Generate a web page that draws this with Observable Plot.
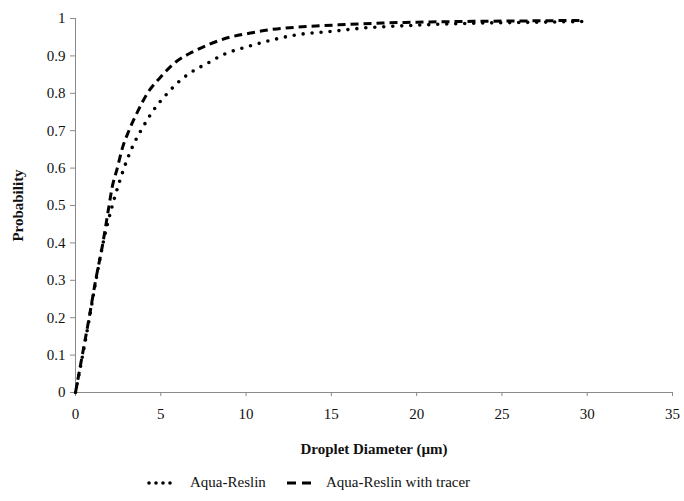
<!DOCTYPE html>
<html>
<head>
<meta charset="utf-8">
<script src="https://cdn.jsdelivr.net/npm/d3@7"></script>
<script src="https://cdn.jsdelivr.net/npm/@observablehq/plot@0.6"></script>
<style>
  body { margin: 0; background: #fff; font-family: 'Liberation Serif', 'Times New Roman', serif; }
  #wrap { position: relative; width: 684px; }
  #legend { position: relative; height: 31px; font-size: 15px; color: #111; }
  .item { position: absolute; top: 4px; display: flex; align-items: center; white-space: nowrap; }
  svg text { font-family: 'Liberation Serif', 'Times New Roman', serif; }
</style>
</head>
<body>
<div id="wrap">
  <div id="chart"></div>
  <div id="legend"></div>
</div>
<script>
// Aqua-Reslin (dotted)
const reslinX = [0, 0.42, 0.82, 1.2, 1.62, 2.19, 2.54, 2.93, 3.42, 3.97, 4.59, 5.37, 5.76, 6.64, 7.72, 8.8, 9.88, 11.05, 12.77, 15.1, 17, 19, 21.5, 24, 27, 29.7];
const reslinY = [0, 0.1, 0.2, 0.3, 0.4, 0.505, 0.558, 0.611, 0.665, 0.711, 0.756, 0.799, 0.818, 0.852, 0.88, 0.906, 0.922, 0.937, 0.955, 0.966, 0.975, 0.98, 0.985, 0.988, 0.99, 0.992];
// Aqua-Reslin with tracer (dashed)
const tracerX = [0, 0.4, 0.8, 1.18, 1.6, 1.95, 2.15, 2.44, 2.74, 3.13, 3.62, 4.2, 4.98, 5.86, 6.84, 7.9, 9.05, 10.25, 11.4, 13.75, 15.9, 18, 20, 22.5, 25, 27.5, 29.7];
const tracerY = [0, 0.1, 0.2, 0.3, 0.398, 0.495, 0.549, 0.598, 0.652, 0.70, 0.749, 0.799, 0.843, 0.883, 0.91, 0.932, 0.95, 0.961, 0.97, 0.979, 0.984, 0.988, 0.99, 0.992, 0.993, 0.994, 0.995];

const seriesNames = ["Aqua-Reslin", "Aqua-Reslin with tracer"];
const xTicks = [0, 5, 10, 15, 20, 25, 30, 35];
const yTicks = [0, 0.1, 0.2, 0.3, 0.4, 0.5, 0.6, 0.7, 0.8, 0.9, 1];
const xLabel = "Droplet Diameter (\u00b5m)";
const yLabel = "Probability";

const reslin = reslinX.map((x, i) => ({x, y: reslinY[i]}));
const tracer = tracerX.map((x, i) => ({x, y: tracerY[i]}));

const serif = "'Liberation Serif', 'Times New Roman', serif";
const axisColor = "#8a8a8a";
const chart = Plot.plot({
  width: 684,
  height: 470,
  marginTop: 18,
  marginBottom: 78,
  marginLeft: 75,
  marginRight: 12,
  style: {fontFamily: serif, fontSize: "15px", color: "#111", background: "#fff"},
  x: {domain: [0, 35]},
  y: {domain: [0, 1]},
  marks: [
    Plot.ruleY([0], {stroke: axisColor}),
    Plot.ruleX([0], {stroke: axisColor}),
    Plot.axisX({ticks: xTicks, tickSize: 4, tickPadding: 12, stroke: axisColor, label: null, tickFormat: d => String(d), fill: "#111", fontSize: 15}),
    Plot.axisY({ticks: yTicks, tickSize: 5, tickPadding: 5, stroke: axisColor, label: null, tickFormat: d => String(+d.toFixed(1)), fill: "#111", fontSize: 15}),
    Plot.line(reslin, {x: "x", y: "y", curve: "monotone-x", stroke: "#000", strokeWidth: 3.6, strokeDasharray: "0,9", strokeLinecap: "round"}),
    Plot.line(tracer, {x: "x", y: "y", curve: "monotone-x", stroke: "#000", strokeWidth: 3, strokeDasharray: "8,5", strokeLinecap: "butt"}),
    Plot.text([xLabel], {frameAnchor: "bottom", dy: 61, text: d => d, fontWeight: "bold", fontSize: 15, fill: "#111"}),
    Plot.text([yLabel], {frameAnchor: "left", dx: -57, rotate: -90, text: d => d, textAnchor: "middle", fontWeight: "bold", fontSize: 15, fill: "#111"})
  ]
});
document.getElementById("chart").appendChild(chart);

// Legend
const legend = document.getElementById("legend");
const samples = [
  {left: 146, dash: "0,7", width: 3.6, cap: "round", w: 32},
  {left: 284, dash: "9,6", width: 3, cap: "butt", w: 30}
];
seriesNames.forEach((name, i) => {
  const s = samples[i];
  const item = document.createElement("div");
  item.className = "item";
  item.style.left = s.left + "px";
  item.innerHTML = `<svg width="${s.w}" height="16" style="margin-right:12px"><line x1="3" y1="8" x2="${s.w - 2}" y2="8" stroke="#000" stroke-width="${s.width}" stroke-dasharray="${s.dash}" stroke-linecap="${s.cap}"/></svg><span>${name}</span>`;
  legend.appendChild(item);
});
</script>
</body>
</html>
